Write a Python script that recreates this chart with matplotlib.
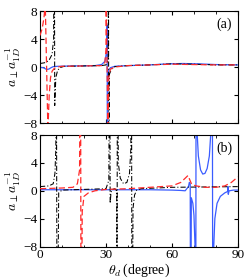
import matplotlib
matplotlib.use("Agg")
import matplotlib.pyplot as plt

plt.rcParams['font.family'] = ['Liberation Serif', 'DejaVu Serif']
plt.rcParams['mathtext.fontset'] = 'cm'

# ---------------- panel (a) ----------------
a_blue_x = [0, 1.5, 3, 4, 5, 6, 8, 15, 25, 28, 29.5, 30.2, 30.55, 30.65, 30.9, 31.3, 32, 34, 40, 50, 58, 65, 72, 80, 90]
a_blue_y = [-0.05, -0.1, -0.35, -0.3, -0.1, 0.05, 0.1, 0.15, 0.2, 0.35, 0.8, 2, 6, -30, -1.5, -0.4, -0.1, 0.1, 0.2, 0.3, 0.45, 0.5, 0.45, 0.35, 0.3]

a_red_x = [0, 1, 1.8, 2.4, 3.6, 4.2, 4.8, 5.5, 6.5, 8, 10, 20, 28, 29.5, 30.0, 30.1, 30.9, 31.3, 32, 34, 40, 50, 60, 70, 80, 90]
a_red_y = [4.5, 5.5, 7, 9, -9, -4, -1.5, -0.6, -0.2, 0.0, 0.1, 0.15, 0.2, 0.6, 2.5, 9, -9, -1.5, -0.3, 0.0, 0.2, 0.3, 0.4, 0.35, 0.3, 0.3]

a_black_x = [0, 2, 4, 5.5, 6.2, 6.5, 6.7, 7.2, 8, 9, 11, 20, 28, 30, 31.0, 31.1, 31.3, 31.6, 32.5, 34, 40, 50, 60, 70, 80, 90]
a_black_y = [0.5, 0.6, 0.9, 1.8, 4, 30, -5.5, -1.5, -0.5, -0.1, 0.1, 0.15, 0.2, 0.3, 1, 30, -30, -1.0, -0.3, 0.05, 0.2, 0.3, 0.45, 0.4, 0.3, 0.3]

# ---------------- panel (b) ----------------
b_blue_x = [0, 10, 20, 30, 40, 50, 60, 64, 66, 67.5, 67.9, 68.3, 68.5, 68.8, 69.5, 70.0, 70.5, 70.8, 71.0, 71.5, 72, 73, 74, 75, 76, 77, 77.8, 78.3, 78.6, 79, 79.5, 80.5, 82, 84, 85.3, 85.5, 85.6, 86, 88, 90]
b_blue_y = [0.15, 0.15, 0.15, 0.15, 0.15, 0.15, 0.1, 0.05, 0.0, 0.6, 1.2, 1.0, -30, -1.0, -1.8, -3.5, -8, -30, 30, 8, 5, 3, 2.4, 2.5, 3.2, 5, 9, 30, -30, -8, -4, -1.8, -0.8, -0.3, -0.1, 0.6, -0.5, 0.0, 0.1, 0.1]

b_red_x = [0, 10, 15, 17, 18, 18.4, 18.7, 19.2, 20, 22, 25, 30, 40, 50, 60, 64, 66, 67.3, 68.2, 69, 71, 75, 80, 84, 87, 90]
b_red_y = [0.3, 0.4, 0.5, 1.0, 3, 30, -30, -3, -0.8, -0.3, 0.0, 0.2, 0.3, 0.5, 0.7, 1.2, 1.8, 2.2, 1.5, 0.9, 0.7, 0.5, 0.5, 0.7, 1.2, 2.0]

b_black_x = [0, 4, 6, 6.8, 7.2, 7.4, 7.8, 8.5, 10, 20, 30, 31.3, 31.7, 31.9, 32.3, 33, 34, 34.9, 35.0, 35.2, 35.6, 36.5, 38, 39.5, 40.7, 41.3, 41.6, 41.8, 42.3, 43, 44, 46, 60, 75, 90]
b_black_y = [0.6, 0.7, 1.0, 2.5, 6, 30, -30, -0.3, 0.1, 0.2, 0.3, 1.5, 30, -1.8, -0.2, 0.2, 0.3, 0.0, -30, 30, 4, 1.8, 1.0, 1.2, 2.5, 6, 30, -30, -2.5, -0.6, 0.1, 0.3, 0.5, 0.55, 0.6]

yticks = [-8, -4, 0, 4, 8]
xticks = [0, 30, 60, 90]

blue = '#3a5cff'
red = '#ff2a2a'

fig = plt.figure(figsize=(2.49, 2.80), dpi=100)
ax_a = fig.add_axes([0.1606, 0.5607, 0.795, 0.400])
ax_b = fig.add_axes([0.1606, 0.1196, 0.795, 0.398])

panels = [
    (ax_a, (a_blue_x, a_blue_y), (a_red_x, a_red_y), (a_black_x, a_black_y), '(a)'),
    (ax_b, (b_blue_x, b_blue_y), (b_red_x, b_red_y), (b_black_x, b_black_y), '(b)'),
]

for ax, bl, rd, bk, lab in panels:
    ax.plot(bl[0], bl[1], color=blue, lw=0.9, zorder=2)
    ax.plot(bk[0], bk[1], color='black', lw=0.75, linestyle=(0, (5, 2, 1, 2)), zorder=3)
    ax.plot(rd[0], rd[1], color=red, lw=0.9, linestyle=(0, (5, 2.5)), zorder=4)
    ax.set_xlim(0, 90)
    ax.set_ylim(-8, 8)
    ax.set_yticks(yticks)
    ax.set_xticks(xticks)
    ax.set_xticks([10, 20, 40, 50, 70, 80], minor=True)
    ax.tick_params(which='both', direction='in', top=True, right=True, labelsize=9.5, pad=2)
    ax.tick_params(which='major', length=3)
    ax.tick_params(which='minor', length=1.8)
    ax.set_yticklabels(['\u22128', '\u22124', '0', '4', '8'])
    ax.set_ylabel(r'$a_\perp a_{1D}^{-1}$', fontsize=10, labelpad=0)
    ax.text(0.97, 0.94, lab, transform=ax.transAxes, ha='right', va='top', fontsize=10)
    for s in ax.spines.values():
        s.set_linewidth(0.8)

ax_a.set_xticklabels([])
ax_b.set_xlabel(r'$\theta_d\,$(degree)', fontsize=10, labelpad=0)

fig.savefig('out.png', dpi=100)
